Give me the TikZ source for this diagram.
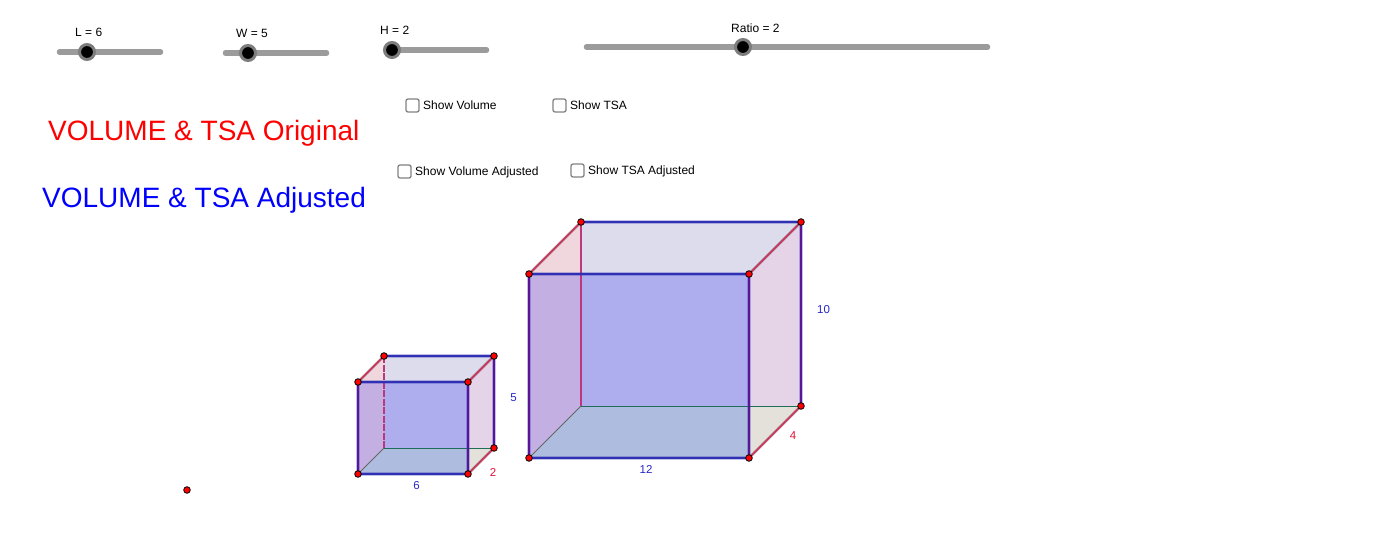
\documentclass[tikz,border=0pt]{standalone}
\usepackage{fontspec}
\setmainfont{Liberation Sans}
\definecolor{cFront}{RGB}{174,174,238}
\definecolor{cTop}{RGB}{220,220,236}
\definecolor{cTri}{RGB}{240,215,222}
\definecolor{cLeft}{RGB}{195,175,226}
\definecolor{cRight}{RGB}{229,211,232}
\definecolor{cBot}{RGB}{174,188,224}
\definecolor{cBeige}{RGB}{228,224,218}
\definecolor{eBlue}{RGB}{48,48,180}
\definecolor{ePurple}{RGB}{90,20,150}
\definecolor{eCrim}{RGB}{205,50,90}
\definecolor{eHid}{RGB}{190,55,125}
\definecolor{eGreen}{RGB}{30,110,90}
\definecolor{tBlue}{RGB}{40,40,200}
\definecolor{tRed}{RGB}{220,20,60}
\definecolor{track}{RGB}{155,155,155}
\definecolor{ring}{RGB}{125,125,125}
\definecolor{boxc}{RGB}{130,130,130}
\tikzset{
 x=1pt,y=-1pt,
 pt/.style={circle,draw=black,line width=0.8pt,fill=red,minimum size=6.6pt,inner sep=0pt},
 small/.style={font=\fontsize{12}{14}\selectfont,text=black,inner sep=0pt},
 dim/.style={font=\fontsize{11.5}{13}\selectfont,inner sep=0pt},
 hblue/.style={draw=eBlue,line width=2.2pt},
 hpurple/.style={draw=ePurple,line width=2.6pt},
 hdiag/.style={draw=eCrim,line width=1.6pt},
 halo/.style={draw=eBlue,line width=3.8pt,opacity=0.3},
 dhalo/.style={draw=black,line width=2.8pt,opacity=0.3},
 thumb/.style={circle,draw=ring,line width=3pt,fill=black,minimum size=15pt,inner sep=0pt},
 checkb/.style={draw=boxc,line width=1.3pt,rounded corners=2pt,fill=white,minimum size=13pt,inner sep=0pt},
 bigt/.style={font=\fontsize{28}{32}\selectfont,inner sep=0pt,anchor=west},
}
\newcommand{\slider}[6]{% name, x1, x2, y, thumb x, label
 \coordinate (#1a) at (#2,#4);
 \coordinate (#1b) at (#3,#4);
 \draw[track,line width=5.5pt,line cap=round] (#1a) -- (#1b);
 \node[thumb] (#1t) at (#5,#4) {};
}
\newcommand{\cube}[9]{% name, x0,y0 (front top left), w, h, dx, dy, dashpat
 \coordinate (#1A) at (#2,#3);
 \coordinate (#1B) at (#2+#4,#3);
 \coordinate (#1C) at (#2+#4,#3+#5);
 \coordinate (#1D) at (#2,#3+#5);
 \coordinate (#1E) at (#2+#6,#3-#7);
 \coordinate (#1F) at (#2+#4+#6,#3-#7);
 \coordinate (#1G) at (#2+#4+#6,#3+#5-#7);
 \coordinate (#1H) at (#2+#6,#3+#5-#7);
 \coordinate (#1I) at (#2+#6,#3);
 \coordinate (#1J) at (#2+#4,#3+#5-#7);
 \fill[cTop] (#1E) -- (#1F) -- (#1B) -- (#1I) -- cycle;
 \fill[cTri] (#1A) -- (#1E) -- (#1I) -- cycle;
 \fill[cLeft] (#1A) -- (#1I) -- (#1H) -- (#1D) -- cycle;
 \fill[cFront] (#1I) -- (#1B) -- (#1J) -- (#1H) -- cycle;
 \fill[cBot] (#1H) -- (#1J) -- (#1C) -- (#1D) -- cycle;
 \fill[cRight] (#1B) -- (#1F) -- (#1G) -- (#1J) -- cycle;
 \fill[cBeige] (#1J) -- (#1G) -- (#1C) -- cycle;
 \draw[eGreen,line width=0.9pt] (#1H) -- (#1G);
 \draw[black!60,line width=0.8pt] (#1H) -- (#1D);
 \draw[eHid,line width=1.6pt,#8] (#1E) -- (#1H);
 \draw[halo] (#1E) -- (#1F);
 \draw[halo] (#1A) -- (#1B);
 \draw[halo] (#1D) -- (#1C);
 \draw[halo] (#1A) -- (#1D);
 \draw[halo] (#1B) -- (#1C);
 \draw[halo] (#1F) -- (#1G);
 \draw[hblue] (#1E) -- (#1F);
 \draw[hblue] (#1A) -- (#1B);
 \draw[hblue] (#1D) -- (#1C);
 \draw[hpurple] (#1A) -- (#1D);
 \draw[hpurple] (#1B) -- (#1C);
 \draw[hpurple] (#1F) -- (#1G);
 \draw[dhalo] (#1A) -- (#1E);
 \draw[dhalo] (#1B) -- (#1F);
 \draw[dhalo] (#1C) -- (#1G);
 \draw[hdiag] (#1A) -- (#1E);
 \draw[hdiag] (#1B) -- (#1F);
 \draw[hdiag] (#1C) -- (#1G);
 \node[pt] (#1pA) at (#1A) {};
 \node[pt] (#1pB) at (#1B) {};
 \node[pt] (#1pC) at (#1C) {};
 \node[pt] (#1pD) at (#1D) {};
 \node[pt] (#1pE) at (#1E) {};
 \node[pt] (#1pF) at (#1F) {};
 \node[pt] (#1pG) at (#1G) {};
}
\begin{document}
\begin{tikzpicture}
\useasboundingbox (0,0) rectangle (1393,543);
\fill[white] (0,0) rectangle (1393,543);
% sliders
\slider{L}{59.5}{160.5}{52}{87}{}
\slider{W}{225.5}{326.5}{53}{248}{}
\slider{H}{391.5}{486.5}{50}{392}{}
\slider{R}{586.5}{987.5}{47}{743}{}
\node[small,anchor=base west] (tL) at (75,37) {L = 6};
\node[small,anchor=base west] (tW) at (236,38) {W = 5};
\node[small,anchor=base west] (tH) at (380,35) {H = 2};
\node[small,anchor=base west] (tR) at (731,32.5) {Ratio = 2};
% checkboxes
\node[checkb] (c1) at (412.5,105.5) {};
\node[small,anchor=base west] (c1t) at (423,109.5) {Show Volume};
\node[checkb] (c2) at (559.5,105.5) {};
\node[small,anchor=base west] (c2t) at (570,109.5) {Show TSA};
\node[checkb] (c3) at (404.5,171.5) {};
\node[small,anchor=base west] (c3t) at (415,175.5) {Show Volume Adjusted};
\node[checkb] (c4) at (577.5,170.5) {};
\node[small,anchor=base west] (c4t) at (588,174.5) {Show TSA Adjusted};
% headings
\node[bigt,text=red] (h1) at (48,133.5) {VOLUME \& TSA Original};
\node[bigt,text=blue] (h2) at (42,200.5) {VOLUME \& TSA Adjusted};
% cubes
\cube{s}{358}{382}{110}{92}{26}{26}{dashed,dash pattern=on 7pt off 1.5pt}{}
\cube{b}{529}{274}{220}{184}{52}{52}{solid}{}
% dimension labels
\node[dim,text=tBlue,anchor=base] (d6) at (416.5,489) {6};
\node[dim,text=tRed,anchor=base] (d2) at (493,476) {2};
\node[dim,text=tBlue,anchor=base] (d5) at (513.5,401) {5};
\node[dim,text=tBlue,anchor=base] (d12) at (646,473) {12};
\node[dim,text=tRed,anchor=base] (d4) at (793,439) {4};
\node[dim,text=tBlue,anchor=base] (d10) at (823.5,313) {10};
% stray point
\node[pt] (p0) at (187,490) {};
\end{tikzpicture}
\end{document}
